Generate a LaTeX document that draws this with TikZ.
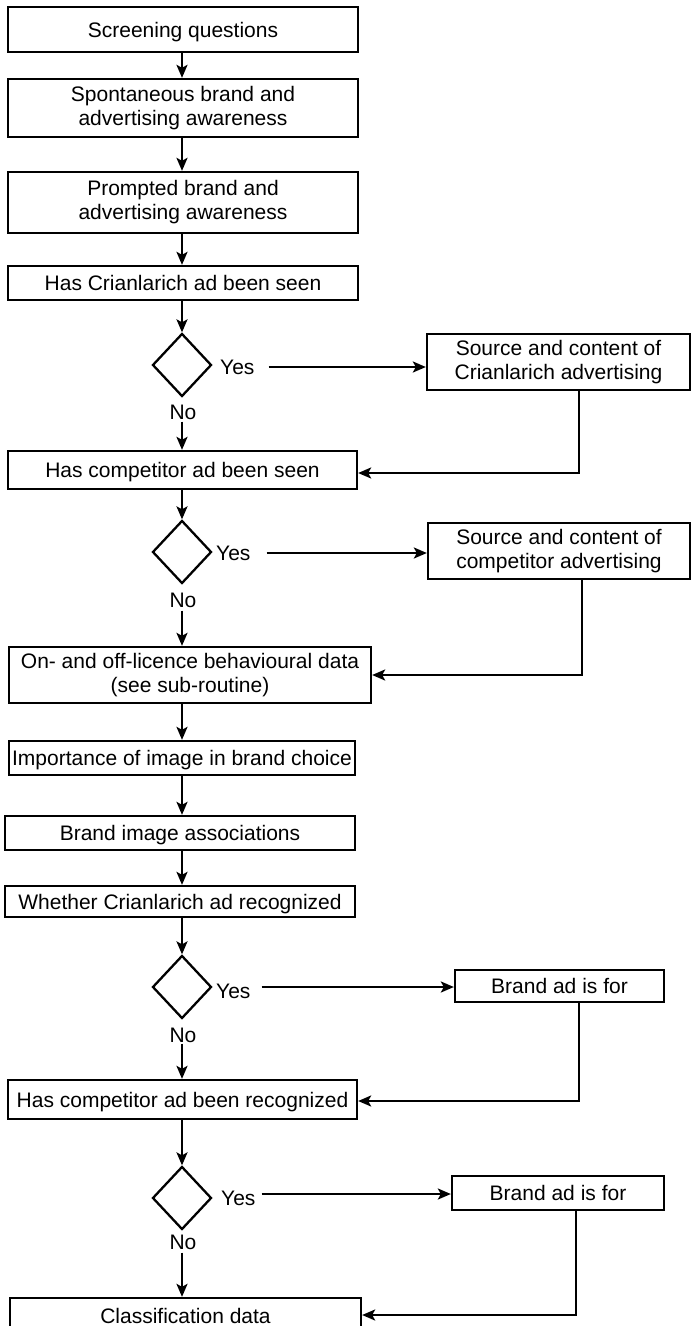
\documentclass[tikz,border=0pt]{standalone}
\usepackage{fontspec}
\setmainfont{Liberation Sans}
\usetikzlibrary{shapes.geometric,arrows.meta}
\begin{document}
\begin{tikzpicture}[x=1pt,y=-1pt,
  box/.style={draw, line width=2.3pt, inner sep=0pt, align=center, font=\fontsize{21}{24}\selectfont},
  oneline/.style={text height=15pt, text depth=0pt},
  dec/.style={draw, shape=diamond, line width=2.3pt, inner sep=0pt, minimum width=59pt, minimum height=63pt},
  lab/.style={inner sep=0pt, font=\fontsize{21}{24}\selectfont, text height=15pt, text depth=0pt},
  arr/.style={line width=2.3pt, -{Stealth[length=13pt,width=11pt,inset=3pt]}},
  ln/.style={line width=2.3pt}]
\path[use as bounding box] (0,0) rectangle (692,1326);
\clip (0,0) rectangle (692,1326);
\coordinate (ax) at (182,0);

% left column
\node[box,oneline,minimum width=350pt,minimum height=45pt] (b1) at (183,29.5) {Screening questions};
\node[box,minimum width=350pt,minimum height=58pt] (b2) at (183,108) {Spontaneous brand and\\advertising awareness};
\node[box,minimum width=350pt,minimum height=61pt] (b3) at (183,202.5) {Prompted brand and\\advertising awareness};
\node[box,oneline,minimum width=350pt,minimum height=34pt] (b4) at (183,283) {Has Crianlarich ad been seen};
\node[dec] (d1) at (182,365) {};
\node[lab] (n1) at (183,412) {No};
\node[box,oneline,minimum width=349pt,minimum height=38pt] (b5) at (182.5,470) {Has competitor ad been seen};
\node[dec] (d2) at (182,552) {};
\node[lab] (n2) at (183,600) {No};
\node[box,minimum width=362pt,minimum height=56pt] (b6) at (190,675) {On- and off-licence behavioural data\\(see sub-routine)};
\node[box,oneline,minimum width=346pt,minimum height=34pt] (b7) at (182,758) {Importance of image in brand choice};
\node[box,oneline,minimum width=350pt,minimum height=34pt] (b8) at (180,833) {Brand image associations};
\node[box,oneline,minimum width=350pt,minimum height=31pt] (b9) at (180,901.5) {Whether Crianlarich ad recognized};
\node[dec] (d3) at (182,987) {};
\node[lab] (n3) at (183,1035) {No};
\node[box,oneline,minimum width=349pt,minimum height=39pt] (b10) at (182.5,1099.5) {Has competitor ad been recognized};
\node[dec] (d4) at (182,1198) {};
\node[lab] (n4) at (183,1242) {No};
\node[box,oneline,minimum width=351pt,minimum height=36pt] (b11) at (185.5,1316) {Classification data};

% right column
\node[box,minimum width=263pt,minimum height=56pt] (s1) at (558.5,362) {Source and content of\\Crianlarich advertising};
\node[box,minimum width=262pt,minimum height=56pt] (s2) at (559,551) {Source and content of\\competitor advertising};
\node[box,oneline,minimum width=209pt,minimum height=32pt] (r1) at (559.5,986) {Brand ad is for};
\node[box,oneline,minimum width=212pt,minimum height=34pt] (r2) at (558,1193) {Brand ad is for};

% yes labels
\node[lab,anchor=west] (y1) at (220,367) {Yes};
\node[lab,anchor=west] (y2) at (216,553) {Yes};
\node[lab,anchor=west] (y3) at (216,991) {Yes};
\node[lab,anchor=west] (y4) at (221,1198) {Yes};

% main flow
\draw[arr] (b1.south -| ax) -- (b2.north -| ax);
\draw[arr] (b2.south -| ax) -- (b3.north -| ax);
\draw[arr] (b3.south -| ax) -- (b4.north -| ax);
\draw[arr] (b4.south -| ax) -- (d1.north);
\draw[arr,shorten <=2pt] (n1.south -| ax) -- (b5.north -| ax);
\draw[arr] (b5.south -| ax) -- (d2.north);
\draw[arr,shorten <=3pt] (n2.south -| ax) -- (b6.north -| ax);
\draw[arr] (b6.south -| ax) -- (b7.north -| ax);
\draw[arr] (b7.south -| ax) -- (b8.north -| ax);
\draw[arr] (b8.south -| ax) -- (b9.north -| ax);
\draw[arr] (b9.south -| ax) -- (d3.north);
\draw[arr,shorten <=1pt] (n3.south -| ax) -- (b10.north -| ax);
\draw[arr] (b10.south -| ax) -- (d4.north);
\draw[arr,shorten <=3pt] (n4.south -| ax) -- (b11.north -| ax);

% yes arrows
\draw[arr,shorten <=14pt] (y1.east) -- (y1.east -| s1.west);
\draw[arr,shorten <=16pt] (y2.east) -- (y2.east -| s2.west);
\draw[arr,shorten <=11pt] ([yshift=4pt]y3.east) -- ([yshift=4pt]y3.east -| r1.west);
\draw[arr,shorten <=6pt] ([yshift=4pt]y4.east) -- ([yshift=4pt]y4.east -| r2.west);

% return connectors
\coordinate (k1) at (579,473);
\coordinate (k2) at (582,675);
\coordinate (k3) at (579,1101);
\coordinate (k4) at (576,1315);
\draw[arr] (s1.south -| k1) -- (k1) -- (k1 -| b5.east);
\draw[arr] (s2.south -| k2) -- (k2) -- (k2 -| b6.east);
\draw[arr] (r1.south -| k3) -- (k3) -- (k3 -| b10.east);
\draw[arr] (r2.south -| k4) -- (k4) -- (k4 -| b11.east);
\end{tikzpicture}
\end{document}
